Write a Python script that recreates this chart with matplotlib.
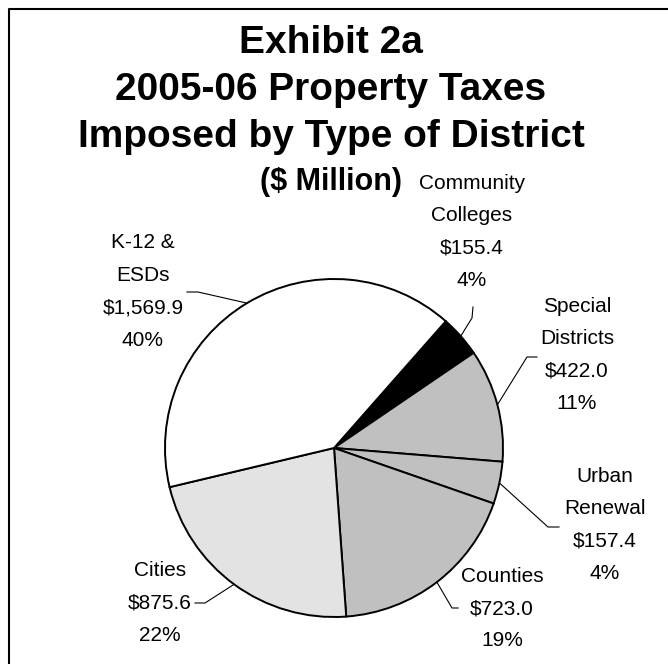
import matplotlib
matplotlib.use("Agg")
import matplotlib.pyplot as plt
from matplotlib import font_manager
import numpy as np

# ---- data ----
categories = ["Community\nColleges", "Special\nDistricts", "Urban\nRenewal",
              "Counties", "Cities", "K-12 &\nESDs"]
values = [155.4, 422.0, 157.4, 723.0, 875.6, 1569.9]
colors = ["#000000", "#C0C0C0", "#C0C0C0", "#C0C0C0", "#E3E3E3", "#FFFFFF"]
title_lines = ["Exhibit 2a", "2005-06 Property Taxes", "Imposed by Type of District"]
subtitle = "($ Million)"

# ---- layout (pixel coordinates, y measured from top) ----
W, H = 668, 664
def Y(y):
    return H - y

names = {f.name for f in font_manager.fontManager.ttflist}
if "Liberation Sans Narrow" in names:
    label_family, label_size, label_ls = "Liberation Sans Narrow", 17, 1.55
else:
    label_family, label_size, label_ls = "Liberation Sans", 15, 1.9

fig = plt.figure(figsize=(W / 100, H / 100), dpi=100)
ax = fig.add_axes([0, 0, 1, 1])

center = (334, Y(448))
radius = 169
wedges, _ = ax.pie(values, colors=colors, startangle=48.6, counterclock=False,
                   center=center, radius=radius,
                   wedgeprops=dict(edgecolor="black", linewidth=1.4))
ax.set_xlim(0, W)
ax.set_ylim(0, H)
ax.set_aspect("auto")
ax.axis("off")

# label positions: text center (x, y) and leader elbow / end points
label_pos = [(472, 232), (577, 355), (605, 525), (502, 608.5), (160, 603), (143, 291.5)]
leader_pts = [[(472, 318), (473, 307)],
              [(527, 357), (537, 357)],
              [(548, 527), (559, 527)],
              [(452, 608), (458, 608)],
              [(205, 603), (195, 603)],
              [(198, 292), (187, 292)]]

total = sum(values)
for w, name, v, (lx, ly), pts in zip(wedges, categories, values, label_pos, leader_pts):
    pct = v / total * 100
    txt = f"{name}\n${v:,.1f}\n{pct:.0f}%"
    ax.text(lx, Y(ly), txt, ha="center", va="center", family=label_family,
            fontsize=label_size, linespacing=label_ls, color="black")
    mid = np.deg2rad((w.theta1 + w.theta2) / 2)
    ex = center[0] + radius * np.cos(mid)
    ey = center[1] + radius * np.sin(mid)
    xs = [ex] + [p[0] for p in pts]
    ys = [ey] + [Y(p[1]) for p in pts]
    ax.plot(xs, ys, color="black", linewidth=0.8)

# title
ax.text(331, Y(90), "\n".join(title_lines), ha="center", va="center",
        family="Liberation Sans", fontweight="bold", fontsize=28, linespacing=1.38)
ax.text(331, Y(182), subtitle, ha="center", va="center",
        family="Liberation Sans", fontweight="bold", fontsize=22)

# frame (top and left edges visible)
ax.plot([8.5, 8.5, W + 10], [-10, Y(8.5), Y(8.5)], color="black", linewidth=1.5)

fig.savefig("out.png", dpi=100)
